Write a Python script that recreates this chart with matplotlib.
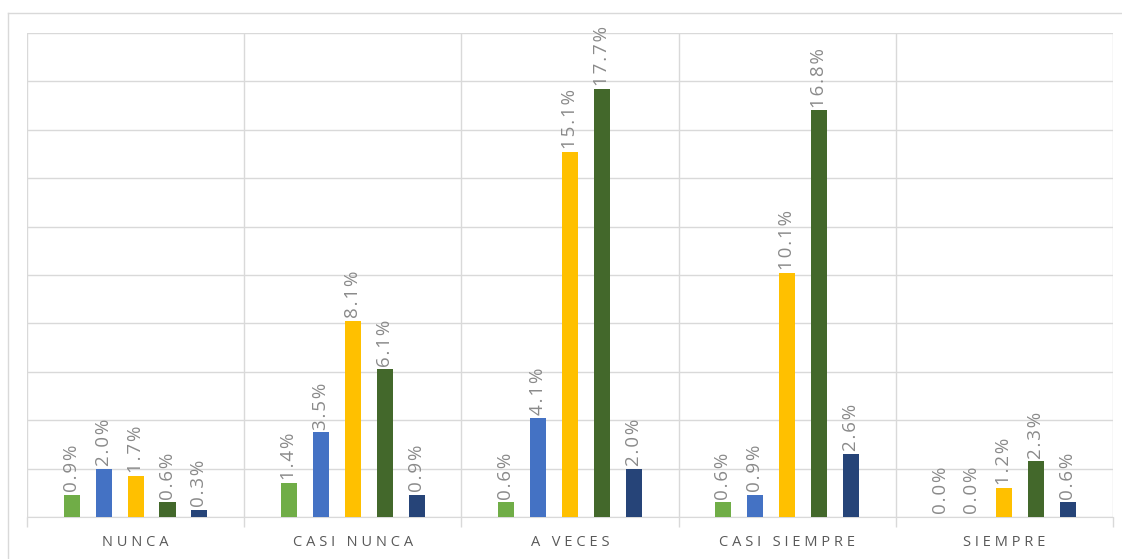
import matplotlib.pyplot as plt
import numpy as np
from matplotlib.lines import Line2D

categories = ["NUNCA", "CASI NUNCA", "A VECES", "CASI SIEMPRE", "SIEMPRE"]
s1 = [0.9, 1.4, 0.6, 0.6, 0.0]
s2 = [2.0, 3.5, 4.1, 0.9, 0.0]
s3 = [1.7, 8.1, 15.1, 10.1, 1.2]
s4 = [0.6, 6.1, 17.7, 16.8, 2.3]
s5 = [0.3, 0.9, 2.0, 2.6, 0.6]

series = [s1, s2, s3, s4, s5]
colors = ["#70AD47", "#4472C4", "#FFC000", "#43682B", "#264478"]

plt.rcParams['font.family'] = ['Open Sans', 'DejaVu Sans']

fig = plt.figure(figsize=(11.22, 5.59), dpi=100)
ax = fig.add_axes([27/1122, 1 - 517/559, (1113 - 27)/1122, (517 - 33)/559])

x = np.arange(len(categories))
step = 0.147
width = 0.074
for i, (vals, c) in enumerate(zip(series, colors)):
    pos = x + (i - 2) * step
    ax.bar(pos, vals, width=width, color=c, zorder=3)
    for px, v in zip(pos, vals):
        ax.annotate("\u200a".join(f"{v:.1f}%"), (px, v), xytext=(0, 2), textcoords="offset points",
                    rotation=90, ha="center", va="bottom", fontsize=13.5, color="#8A8A8A")

ax.set_xlim(-0.5, len(categories) - 0.5)
ax.set_ylim(0, 20)
ax.set_yticks(np.arange(0, 21, 2))
ax.set_yticklabels([])
ax.tick_params(axis="y", length=0)
ax.grid(axis="y", color="#D9D9D9", linewidth=1, zorder=0)

ax.set_xticks(x)
ax.set_xticklabels(["\u2009\u200a".join(c) for c in categories], fontsize=10.5, color="#595959")
ax.tick_params(axis="x", which="major", length=0, pad=13)
ax.set_xticks(np.arange(-0.5, len(categories)), minor=True)
ax.tick_params(axis="x", which="minor", length=7, color="#D9D9D9", width=1)
ax.grid(axis="x", which="minor", color="#D9D9D9", linewidth=1, zorder=0)

for s in ["top", "right", "left"]:
    ax.spines[s].set_visible(False)
ax.spines["bottom"].set_color("#D9D9D9")

# outer chart border
fig.add_artist(Line2D([8/1122, 8/1122], [0, 1 - 13/559], transform=fig.transFigure, color="#D9D9D9", lw=1))
fig.add_artist(Line2D([8/1122, 1], [1 - 13/559, 1 - 13/559], transform=fig.transFigure, color="#D9D9D9", lw=1))

fig.savefig("out.png", dpi=100)
